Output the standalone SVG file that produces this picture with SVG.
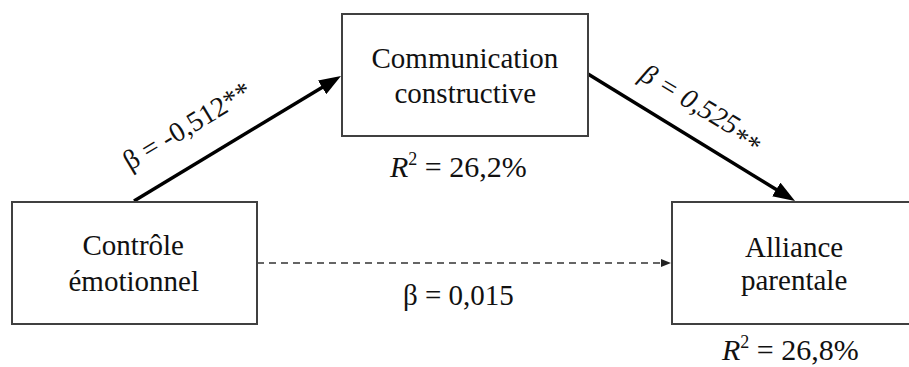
<svg xmlns="http://www.w3.org/2000/svg" width="909" height="367" viewBox="0 0 909 367">
<style>
.box{fill:#fff;stroke:#404040;stroke-width:2}
.solid{stroke:#000;stroke-width:3.5;fill:none}
.dash{stroke:#333;stroke-width:1.6;fill:none;stroke-dasharray:7,5}
.t{font-family:'Liberation Serif','Times New Roman',serif !important;fill:#111}
</style>
<defs>
<marker id="ah" viewBox="0 0 22 16" refX="10" refY="8" markerWidth="22" markerHeight="16" markerUnits="userSpaceOnUse" orient="auto">
<path d="M0,0 L22,8 L0,16 z" fill="#000"/>
</marker>
<marker id="ahs" viewBox="0 0 10 8" refX="2" refY="4" markerWidth="10" markerHeight="8" markerUnits="userSpaceOnUse" orient="auto">
<path d="M0,0 L10,4 L0,8 z" fill="#222"/>
</marker>
</defs>
<rect width="909" height="367" fill="#fff"/>
<g id="connectors">
<line class="solid" x1="134" y1="201" x2="330.7" y2="82.2" marker-end="url(#ah)"/>
<line class="solid" x1="588" y1="74" x2="784.8" y2="194.7" marker-end="url(#ah)"/>
<line class="dash" x1="257" y1="263" x2="663" y2="263" marker-end="url(#ahs)"/>
<text class="t" style="font-family:'Liberation Serif','Times New Roman',serif !important" font-family="Liberation Serif" font-size="28" transform="translate(130,171) rotate(-31)">β = -0,512**</text>
<text class="t" style="font-family:'Liberation Serif','Times New Roman',serif !important" font-family="Liberation Serif" font-size="28" font-style="italic" transform="translate(638,79) rotate(31)">β = 0,525<tspan dy="7">**</tspan></text>
<text class="t" style="font-family:'Liberation Serif','Times New Roman',serif !important" font-family="Liberation Serif" font-size="29" x="403" y="305">β = 0,015</text>
</g>
<g id="node-communication">
<rect class="box" x="342" y="14" width="246" height="122"/>
<text class="t" style="font-family:'Liberation Serif','Times New Roman',serif !important" font-family="Liberation Serif" font-size="29" x="371.5" y="68">Communication</text>
<text class="t" style="font-family:'Liberation Serif','Times New Roman',serif !important" font-family="Liberation Serif" font-size="29" x="394.5" y="103">constructive</text>
<text class="t" style="font-family:'Liberation Serif','Times New Roman',serif !important" font-family="Liberation Serif" font-size="30" x="390" y="177"><tspan font-style="italic">R</tspan><tspan font-size="18" dy="-12">2</tspan><tspan dy="12"> = 26,2%</tspan></text>
</g>
<g id="node-controle">
<rect class="box" x="12" y="202" width="245" height="122"/>
<text class="t" style="font-family:'Liberation Serif','Times New Roman',serif !important" font-family="Liberation Serif" font-size="29" x="82.5" y="255">Contrôle</text>
<text class="t" style="font-family:'Liberation Serif','Times New Roman',serif !important" font-family="Liberation Serif" font-size="29" x="68.5" y="291">émotionnel</text>
</g>
<g id="node-alliance">
<rect class="box" x="672" y="202" width="246" height="122"/>
<text class="t" style="font-family:'Liberation Serif','Times New Roman',serif !important" font-family="Liberation Serif" font-size="29" x="745" y="257">Alliance</text>
<text class="t" style="font-family:'Liberation Serif','Times New Roman',serif !important" font-family="Liberation Serif" font-size="29" x="741" y="290">parentale</text>
<text class="t" style="font-family:'Liberation Serif','Times New Roman',serif !important" font-family="Liberation Serif" font-size="30" x="722" y="360"><tspan font-style="italic">R</tspan><tspan font-size="18" dy="-12">2</tspan><tspan dy="12"> = 26,8%</tspan></text>
</g>
</svg>
